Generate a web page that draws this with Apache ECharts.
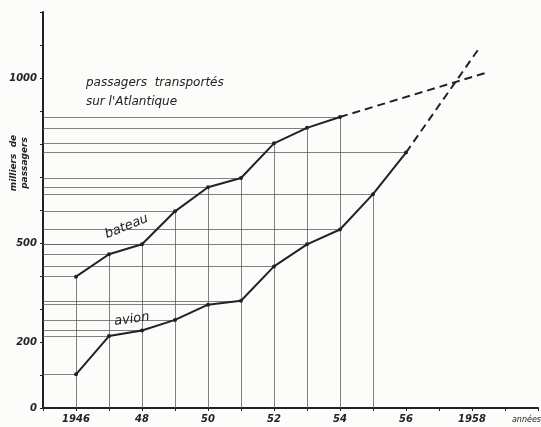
<!DOCTYPE html>
<html>
<head>
<meta charset="utf-8">
<script src="https://cdn.jsdelivr.net/npm/echarts@6/dist/echarts.min.js"></script>
<style>
    html, body { margin: 0; padding: 0; background: #fcfcfa; }
    #chart { width: 541px; height: 427px; }
</style>
</head>
<body>
<div id="chart"></div>
<script>
    // années
    var years = [1946, 1947, 1948, 1949, 1950, 1951, 1952, 1953, 1954, 1955, 1956];
    // milliers de passagers
    var bateau = [398, 466, 496, 596, 669, 697, 802, 849, 882];
    var avion = [102, 218, 235, 267, 313, 325, 429, 496, 541, 648, 774];
    // extrapolation en tirets
    var bateauTrend = [[1954, 882], [1958.5, 1018]];
    var avionTrend = [[1956, 774], [1958.2, 1088]];
    var yLabels = [0, 200, 500, 1000];
    var xLabels = {1946: '1946', 1948: '48', 1950: '50', 1952: '52', 1954: '54', 1956: '56', 1958: '1958'};

    var chart = echarts.init(document.getElementById('chart'));
    var ink = '#222';
    var thin = '#606060';
    var font = 'DejaVu Sans';

    // lignes de rappel vers les axes
    var guides = [];
    var pts = [];
    bateau.forEach(function (v, i) { pts.push([years[i], v]); });
    avion.forEach(function (v, i) { pts.push([years[i], v]); });
    pts.forEach(function (p) {
        guides.push([{coord: [1945, p[1]]}, {coord: [p[0], p[1]]}]);
    });
    for (var i = 0; i < years.length - 1; i++) {
        var yTop = Math.max(avion[i], bateau[i] || 0);
        guides.push([{coord: [years[i], 0]}, {coord: [years[i], yTop]}]);
    }

    function seriesData(arr) {
        return arr.map(function (v, i) { return [years[i], v]; });
    }
    var bateauData = seriesData(bateau);
    bateauData[1] = {
        value: bateauData[1],
        label: {show: true, formatter: 'bateau', position: 'top', offset: [24, -6], rotate: 22,
            color: ink, fontFamily: font, fontStyle: 'italic', fontSize: 13}
    };
    var avionData = seriesData(avion);
    avionData[1] = {
        value: avionData[1],
        label: {show: true, formatter: 'avion', position: 'top', offset: [24, 0], rotate: 8,
            color: ink, fontFamily: font, fontStyle: 'italic', fontSize: 13}
    };

    var option = {
        backgroundColor: '#fcfcfa',
        animation: false,
        title: {
            text: 'passagers  transportés\nsur l\'Atlantique',
            left: 81,
            top: 68,
            textStyle: {
                color: ink, fontFamily: font, fontStyle: 'italic', fontWeight: 'normal',
                fontSize: 12, lineHeight: 19
            }
        },
        graphic: [{
            type: 'text',
            x: 19,
            y: 163,
            rotation: Math.PI / 2,
            style: {
                text: 'milliers  de\npassagers',
                fill: ink,
                font: 'italic bold 9px DejaVu Sans',
                align: 'center',
                verticalAlign: 'middle',
                lineHeight: 11
            }
        }, {
            type: 'text',
            right: 0,
            bottom: 3,
            style: {
                text: 'années',
                fill: ink,
                font: 'italic 8px DejaVu Sans'
            }
        }],
        grid: {left: 43, right: 2, top: 12, bottom: 19},
        xAxis: {
            type: 'value',
            min: 1945,
            max: 1960,
            interval: 1,
            axisLine: {lineStyle: {color: ink, width: 2}},
            axisTick: {show: true, length: 3, lineStyle: {color: ink}},
            splitLine: {show: false},
            axisLabel: {
                color: ink, fontFamily: font, fontStyle: 'italic', fontWeight: 'bold', fontSize: 10,
                margin: 6,
                formatter: function (v) { return xLabels[v] || ''; }
            }
        },
        yAxis: {
            type: 'value',
            min: 0,
            max: 1200,
            interval: 100,
            axisLine: {show: true, lineStyle: {color: ink, width: 2}},
            axisTick: {show: true, length: 3, lineStyle: {color: ink}},
            splitLine: {show: false},
            axisLabel: {
                color: ink, fontFamily: font, fontStyle: 'italic', fontWeight: 'bold', fontSize: 10,
                margin: 6,
                formatter: function (v) { return yLabels.indexOf(v) >= 0 ? String(v) : ''; }
            }
        },
        series: [{
            name: 'bateau',
            type: 'line',
            data: bateauData,
            symbol: 'circle',
            symbolSize: 4,
            lineStyle: {color: ink, width: 2},
            itemStyle: {color: ink},
            z: 5,
            markLine: {
                silent: true,
                symbol: 'none',
                label: {show: false},
                lineStyle: {color: thin, width: 0.8, type: 'solid'},
                data: guides
            }
        }, {
            name: 'avion',
            type: 'line',
            data: avionData,
            symbol: 'circle',
            symbolSize: 4,
            lineStyle: {color: ink, width: 2},
            itemStyle: {color: ink},
            z: 5
        }, {
            type: 'line',
            data: bateauTrend,
            symbol: 'none',
            lineStyle: {color: ink, width: 2, type: [8, 5]},
            z: 4
        }, {
            type: 'line',
            data: avionTrend,
            symbol: 'none',
            lineStyle: {color: ink, width: 2, type: [8, 5]},
            z: 4
        }]
    };
    chart.setOption(option);
</script>
</body>
</html>
